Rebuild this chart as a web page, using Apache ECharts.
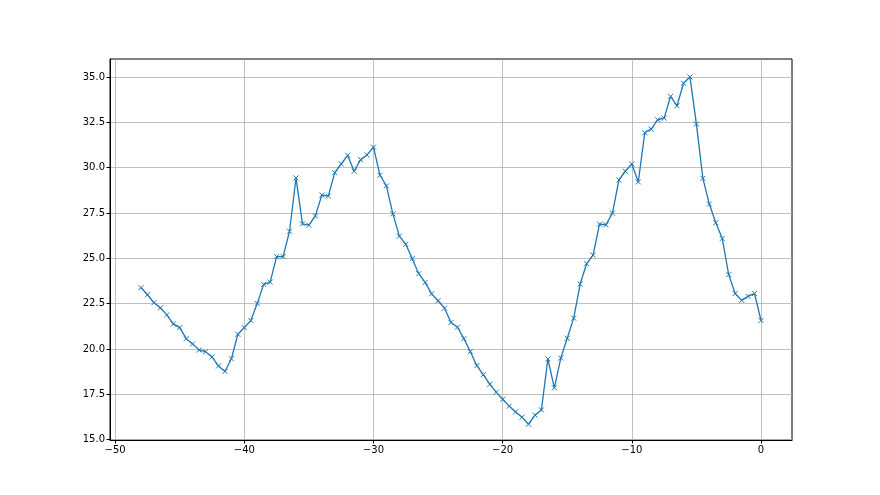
<!DOCTYPE html>
<html><head><meta charset="utf-8">
<script src="https://cdn.jsdelivr.net/npm/echarts@6/dist/echarts.min.js"></script>
<style>html,body{margin:0;padding:0;background:#fff}#c{width:880px;height:495px}</style>
</head><body><div id="c"></div>
<script>
const xStart = -48, xStep = 0.5;
const yValues = [
 23.38,22.99,22.55,22.27,21.88,21.38,21.18,20.57,20.28,19.94,19.85,19.56,19.06,18.76,19.46,20.81,
 21.18,21.57,22.51,23.56,23.69,25.09,25.09,26.49,29.43,26.90,26.83,27.34,28.49,28.43,29.72,30.20,
 30.68,29.80,30.44,30.70,31.13,29.58,28.99,27.45,26.22,25.77,24.98,24.15,23.67,23.04,22.66,22.25,
 21.46,21.20,20.57,19.85,19.08,18.58,18.06,17.62,17.23,16.85,16.53,16.24,15.85,16.35,16.64,19.45,
 17.86,19.50,20.59,21.70,23.58,24.70,25.18,26.88,26.85,27.49,29.32,29.80,30.20,29.21,31.92,32.12,
 32.64,32.73,33.93,33.41,34.65,35.00,32.40,29.41,27.99,26.96,26.09,24.10,23.06,22.68,22.90,23.06,21.57
];
const xTicks = [-50,-40,-30,-20,-10,0];
const yTicks = [15.0,17.5,20.0,22.5,25.0,27.5,30.0,32.5,35.0];

const data = yValues.map((v,i)=>[xStart + i*xStep, v]);
const chart = echarts.init(document.getElementById('c'));
const font = 'DejaVu Sans';
chart.setOption({
  animation:false,
  backgroundColor:'#fff',
  grid:{left:110,right:88,top:59,bottom:55,show:true,borderColor:'#000',borderWidth:1,backgroundColor:'transparent'},
  xAxis:{type:'value',min:-50.4,max:2.4,
    axisLine:{show:true,onZero:false,lineStyle:{color:'#000',width:1}},
    axisTick:{show:true,customValues:xTicks,length:3.5,lineStyle:{color:'#000'}},
    axisLabel:{customValues:xTicks,color:'#000',fontSize:10,fontFamily:font,margin:5,formatter:v=>String(v).replace('-','\u2212')},
    splitLine:{show:true,lineStyle:{color:'#b0b0b0',width:0.8}}},
  yAxis:{type:'value',min:14.98,max:35.99,
    axisLine:{show:true,onZero:false,lineStyle:{color:'#000',width:1}},
    axisTick:{show:true,customValues:yTicks,length:3.5,lineStyle:{color:'#000'}},
    axisLabel:{customValues:yTicks,color:'#000',fontSize:10,fontFamily:font,margin:5,formatter:v=>v.toFixed(1)},
    splitLine:{show:true,lineStyle:{color:'#b0b0b0',width:0.8}}},
  series:[{type:'line',data:data,
    lineStyle:{color:'#1f77b4',width:1.3},
    symbol:'path://M0,0L10,10M10,0L0,10',symbolSize:5,
    itemStyle:{color:'none',borderColor:'#1f77b4',borderWidth:1},
    showSymbol:true}]
});
</script></body></html>
